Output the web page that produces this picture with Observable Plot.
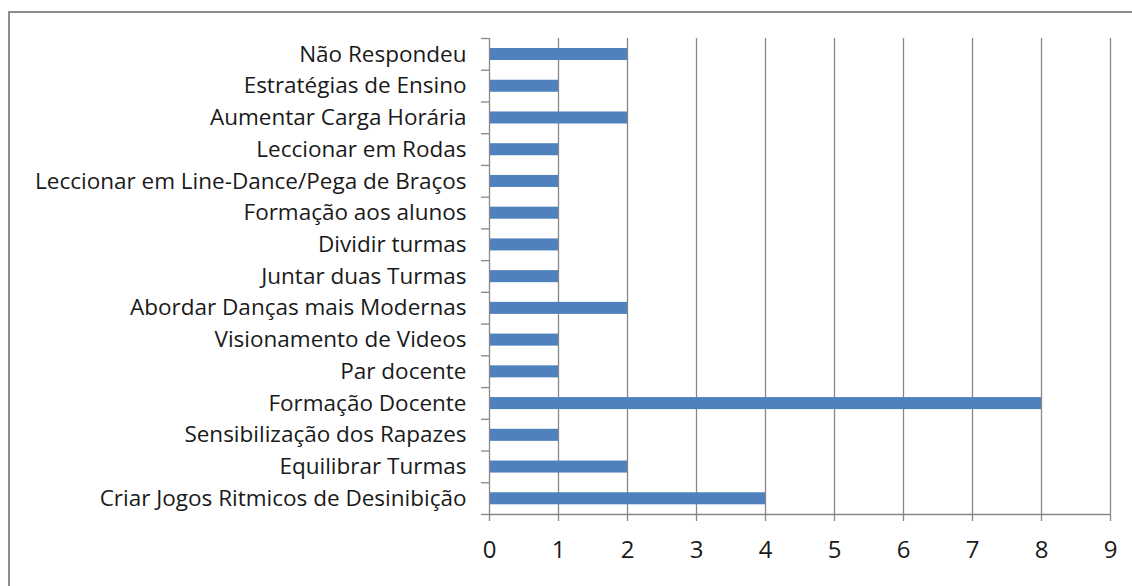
<!DOCTYPE html>
<html>
<head>
<meta charset="utf-8">
<script src="https://cdn.jsdelivr.net/npm/d3@7"></script>
<script src="https://cdn.jsdelivr.net/npm/@observablehq/plot@0.6"></script>
<style>
  html, body { margin: 0; padding: 0; background: #fff; overflow: hidden; }
  #wrap { position: relative; width: 1132px; height: 586px; }
  #frame { position: absolute; left: 8px; top: 11px; width: 1140px; height: 600px; border: 2px solid #8c8c8c; box-sizing: border-box; }
  #chart { position: absolute; left: 0; top: 0; }
</style>
</head>
<body>
<div id="wrap"><div id="frame"></div><div id="chart"></div></div>
<script>
const categories = [
  "Não Respondeu",
  "Estratégias de Ensino",
  "Aumentar Carga Horária",
  "Leccionar em Rodas",
  "Leccionar em Line-Dance/Pega de Braços",
  "Formação aos alunos",
  "Dividir turmas",
  "Juntar duas Turmas",
  "Abordar Danças mais Modernas",
  "Visionamento de Videos",
  "Par docente",
  "Formação Docente",
  "Sensibilização dos Rapazes",
  "Equilibrar Turmas",
  "Criar Jogos Ritmicos de Desinibição"
];
const values = [2, 1, 2, 1, 1, 1, 1, 1, 2, 1, 1, 8, 1, 2, 4];
const xTicks = [0, 1, 2, 3, 4, 5, 6, 7, 8, 9];

const data = categories.map((c, i) => ({category: c, value: values[i], idx: i}));
const n = categories.length;
const gray = "#878787";

const chart = Plot.plot({
  width: 1132,
  height: 586,
  marginLeft: 489,
  marginRight: 22,
  marginTop: 38,
  marginBottom: 72,
  style: {fontFamily: "'Open Sans', sans-serif", fontSize: "22.5px", color: "#1a1a1a", background: "transparent"},
  x: {domain: [0, 9], ticks: xTicks},
  y: {domain: [0, n], reverse: true},
  marks: [
    Plot.gridX(xTicks.filter(t => t > 0), {stroke: gray, strokeOpacity: 1, strokeWidth: 1.3}),
    Plot.rectX(data, {x1: 0, x2: "value", y1: "idx", y2: d => d.idx + 1, insetTop: 10, insetBottom: 9.7, fill: "#4F81BD"}),
    Plot.ruleX([0], {stroke: gray, strokeWidth: 1.3}),
    Plot.ruleY([n], {stroke: gray, strokeWidth: 1.3}),
    Plot.axisX({ticks: xTicks, tickSize: 7, tickPadding: 19, fontSize: 24, stroke: gray, strokeWidth: 1.3, fill: "#1a1a1a", label: null, tickFormat: d => String(d)}),
    Plot.axisY({ticks: d3.range(n + 1), tickSize: 8, stroke: gray, strokeWidth: 1.3, tickFormat: () => "", label: null}),
    Plot.axisY({ticks: d3.range(n).map(i => i + 0.5), tickSize: 0, tickPadding: 23, fill: "#1a1a1a", tickFormat: t => categories[Math.floor(t)], label: null})
  ]
});
document.getElementById("chart").appendChild(chart);
</script>
</body>
</html>
